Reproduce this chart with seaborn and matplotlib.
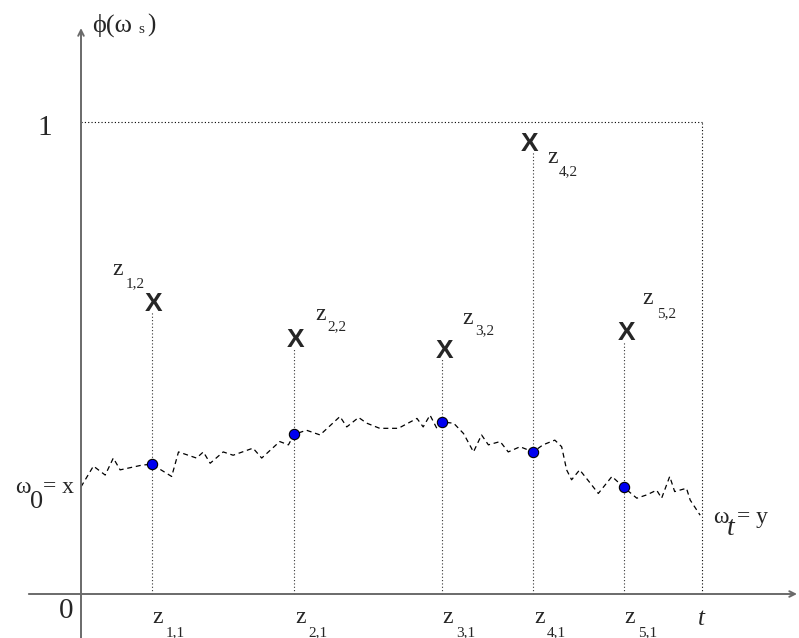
import numpy as np
import matplotlib
matplotlib.use('Agg')
import matplotlib.pyplot as plt
import seaborn as sns

# sample times z_{i,1} on [0, t], path value there, and proposal z_{i,2}
z_pos = [0.114, 0.343, 0.581, 0.728, 0.874]
path_at_z = [0.275, 0.338, 0.364, 0.301, 0.226]
proposal = [0.619, 0.542, 0.520, 0.958, 0.557]
z_names = ['1', '2', '3', '4', '5']

# the path omega from omega_0 = x to omega_t = y
walk_u = [0.000, 0.020, 0.039, 0.052, 0.063, 0.098, 0.114, 0.146, 0.157, 0.186,
          0.197, 0.208, 0.229, 0.245, 0.277, 0.291, 0.320, 0.334, 0.343, 0.363,
          0.385, 0.417, 0.428, 0.447, 0.460, 0.481, 0.511, 0.541, 0.551, 0.562,
          0.573, 0.582, 0.600, 0.616, 0.632, 0.645, 0.656, 0.675, 0.688, 0.707,
          0.728, 0.744, 0.763, 0.774, 0.782, 0.790, 0.803, 0.820, 0.833, 0.855,
          0.874, 0.895, 0.911, 0.927, 0.935, 0.948, 0.956, 0.975, 0.981, 0.997]
walk_v = [0.227, 0.271, 0.252, 0.288, 0.263, 0.273, 0.275, 0.249, 0.301, 0.288,
          0.301, 0.277, 0.301, 0.294, 0.309, 0.288, 0.323, 0.316, 0.338, 0.347,
          0.337, 0.376, 0.354, 0.374, 0.362, 0.351, 0.351, 0.372, 0.354, 0.379,
          0.351, 0.364, 0.362, 0.340, 0.301, 0.337, 0.316, 0.323, 0.301, 0.312,
          0.301, 0.316, 0.326, 0.312, 0.263, 0.242, 0.263, 0.235, 0.213, 0.249,
          0.226, 0.203, 0.210, 0.220, 0.203, 0.249, 0.217, 0.224, 0.199, 0.167]

# label offsets (pixels) around each proposal mark
x_dx = [2, 2, 3, -4, 3]
z2_main_off = [(-39, 27), (21, 18), (21, 25), (14, -21), (19, 27)]
z2_sub_off = [(-26, 15), (33, 8), (33, 14), (26, -33), (33, 14)]

SERIF = ['Liberation Serif', 'DejaVu Serif']
AX_GRAY = '#6a6a6a'

sns.set_style('white')

fig = plt.figure(figsize=(7.99, 6.38), dpi=100)
ax = fig.add_axes([0, 0, 1, 1])


def put(text, xy, off, size, **kw):
    ax.annotate(text, xy=xy, xytext=off, textcoords='offset pixels',
                fontsize=size, ha='left', va='baseline', family=SERIF, **kw)


# axes with arrow heads
ax.annotate('', xy=(1.153, 0), xytext=(-0.084, 0),
            arrowprops=dict(arrowstyle='->', color=AX_GRAY, lw=1.4,
                            shrinkA=0, shrinkB=0, mutation_scale=10))
ax.annotate('', xy=(0, 1.199), xytext=(0, -0.1),
            arrowprops=dict(arrowstyle='->', color=AX_GRAY, lw=1.4,
                            shrinkA=0, shrinkB=0, mutation_scale=10))

# level 1 and time t
ax.hlines(1, 0, 1, colors='black', lw=0.8, linestyles=[(0, (1, 2))])
ax.vlines(1, 0, 1, colors='black', lw=0.8, linestyles=[(0, (1, 2))])

# stems from the time axis up to each proposal
ax.vlines(z_pos, 0, np.array(proposal) - 0.021, colors='#333333', lw=0.8,
          linestyles=[(0, (1, 2))])

# the path
sns.lineplot(x=walk_u, y=walk_v, sort=False, estimator=None, ax=ax,
             color='black', lw=0.9, linestyle=(0, (4, 3)))
sns.scatterplot(x=z_pos, y=path_at_z, ax=ax, s=55, color='#0000f0',
                edgecolor='black', linewidth=0.8, zorder=5)

# proposals and their labels
for i, (z, p) in enumerate(zip(z_pos, proposal)):
    ax.annotate('X', xy=(z, p), xytext=(x_dx[i], -9), textcoords='offset pixels',
                ha='center', va='baseline', fontsize=19, fontweight='bold',
                family=['Liberation Sans', 'DejaVu Sans'])
    put('z', (z, p), z2_main_off[i], 17)
    put(z_names[i] + ',2', (z, p), z2_sub_off[i], 11)
    put('z', (z, 0), (1, -29), 17)
    put(z_names[i] + ',1', (z, 0), (14, -42), 11)

# tick-like labels
put('1', (0, 1), (-44, -13), 21)
put('0', (0, 0), (-22, -24), 21)
put('t', (1, 0), (-4, -31), 18, style='italic')

# y-axis label phi(omega_s)
put('\u03d5(\u03c9', (0, 1), (11, 90), 19)
put('s', (0, 1), (57, 89), 11)
put(')', (0, 1), (66, 90), 18)

# end points of the path
put('\u03c9', (walk_u[0], walk_v[0]), (-66, -6), 17)
put('0', (walk_u[0], walk_v[0]), (-51, -21), 19)
put('= x', (walk_u[0], walk_v[0]), (-38, -6), 17)
put('\u03c9', (walk_u[-1], walk_v[-1]), (13, -8), 17)
put('t', (walk_u[-1], walk_v[-1]), (27, -20), 20, style='italic')
put('= y', (walk_u[-1], walk_v[-1]), (37, -8), 17)

ax.set_xlim(-81 / 621, 718 / 621)
ax.set_ylim(-44 / 472, 594 / 472)
ax.axis('off')

fig.savefig('out.png', dpi=100)
